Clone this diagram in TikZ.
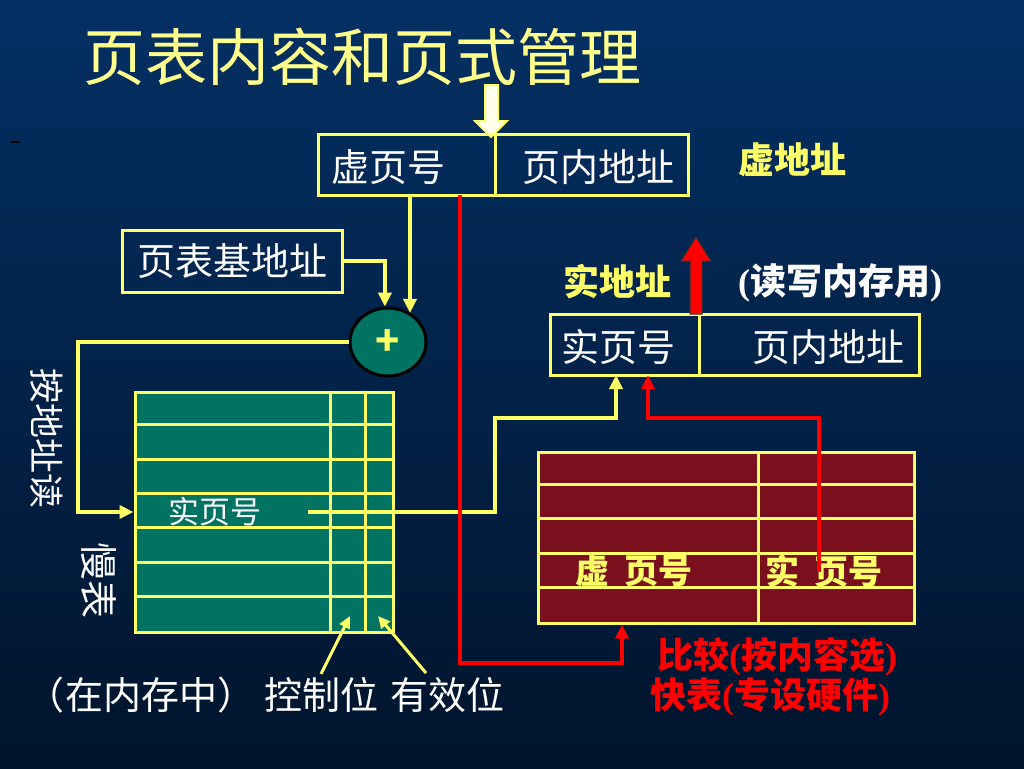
\documentclass[tikz,border=0pt]{standalone}
\usepackage{fontspec}
\setmainfont{Noto Sans CJK SC}
\newfontfamily\latinserif{Liberation Serif}
\usetikzlibrary{arrows.meta,shapes.geometric}
\definecolor{bgtop}{RGB}{4,48,100}
\definecolor{bgbot}{RGB}{0,20,44}
\definecolor{lineyel}{RGB}{255,255,102}
\definecolor{titleyel}{RGB}{255,255,140}
\definecolor{slowfill}{RGB}{0,115,98}
\definecolor{fastfill}{RGB}{122,16,30}
\definecolor{hotred}{RGB}{255,0,0}
\newcommand{\lp}{{\latinserif\bfseries(}}
\newcommand{\rp}{{\latinserif\bfseries)}}
\tikzset{
  box/.style={draw=lineyel, line width=3, minimum height=61, inner sep=0},
  wtext/.style={text=white, font=\fontsize{38}{38}\selectfont},
  ytext/.style={text=lineyel, font=\fontsize{36}{36}\selectfont\bfseries},
  rtext/.style={text=hotred, font=\fontsize{36}{36}\selectfont\bfseries},
  yline/.style={lineyel, line width=4, -{Triangle[length=14pt,width=13pt]}},
  rline/.style={hotred, line width=4, -{Triangle[length=14pt,width=13pt]}},
  gridline/.style={lineyel, line width=3},
}
\begin{document}
\begin{tikzpicture}[x=1pt, y=-1pt]
\useasboundingbox (0,0) rectangle (1024,768);
\fill[top color=bgtop, bottom color=bgbot] (0,0) rectangle (1024,768);
\draw[black, line width=1.5] (11,142) -- (20,142);
\node[text=titleyel, font=\fontsize{62}{62}\selectfont] (title) at (362,57) {页表内容和页式管理};
% virtual address
\draw[lineyel, line width=2, fill=white!92!yellow] (485,85) -- (498,85) -- (498,121) -- (507,121) -- (491,137) -- (475,121) -- (485,121) -- cycle;
\node[box, minimum width=177] (vpn) at (406.5,165) {};
\node[box, minimum width=193] (voff) at (591.5,165) {};
\node[wtext] (vpnlbl) at (388,167) {虚页号};
\node[wtext] (vofflbl) at (598,167) {页内地址};
\node[ytext] (vaddr) at (792,160) {虚地址};
\node[box, wtext, minimum width=220, minimum height=62] (base) at (232,261) {页表基地址};
\node[ellipse, draw=black, line width=3, fill=slowfill, minimum width=76, minimum height=68, text=lineyel, font=\fontsize{40}{40}\selectfont\bfseries] (plus) at (388,342) {+};
% slow table
\node[draw=lineyel, line width=3, fill=slowfill, minimum width=258, minimum height=240] (slow) at (264,512) {};
\foreach \r in {1,...,6}
  \draw[gridline] ([yshift=-\r*34.3pt]slow.north west) -- ([yshift=-\r*34.3pt]slow.north east);
\foreach \c in {197,232}
  \draw[gridline] ([xshift=\c pt]slow.north west) -- ([xshift=\c pt]slow.south west);
\node[text=white, font=\fontsize{31}{31}\selectfont] (slowrpn) at (215,512) {实页号};
\node[wtext, font=\fontsize{35}{35}\selectfont, rotate=-90] (byaddr) at (47,438) {按地址读};
\node[wtext, font=\fontsize{38}{38}\selectfont, rotate=-90] (slowname) at (99,580) {慢表};
% real address
\node[box, minimum width=149] (rpn) at (624.5,344.5) {};
\node[box, minimum width=220] (roff) at (809,344.5) {};
\node[wtext] (rpnlbl) at (618,347) {实页号};
\node[wtext] (rofflbl) at (828,347) {页内地址};
\coordinate (rout) at (696,314);
\draw[black!80, line width=1, fill=hotred] (rout) ++(-6,0) -- ++(0,-53) -- ++(-9,0) -- (696,237) -- ++(15,24) -- ++(-9,0) -- ++(0,53) -- cycle;
\node[ytext] (raddr) at (617,282) {实地址};
\node[text=white, font=\fontsize{36}{36}\selectfont\bfseries] (rwmem) at (840,283) {\lp 读写内存用\rp};
% fast table
\node[draw=lineyel, line width=3, fill=fastfill, minimum width=376, minimum height=171] (fast) at (726,537.5) {};
\foreach \r in {1,...,4}
  \draw[gridline] ([yshift=-\r*34.2pt]fast.north west) -- ([yshift=-\r*34.2pt]fast.north east);
\draw[gridline] ([xshift=222pt]fast.north west) -- ([xshift=222pt]fast.south west);
\node[ytext, font=\fontsize{34}{34}\selectfont\bfseries] (fastvpn) at (634,571) {虚\hspace{0.45em}页号};
\node[ytext, font=\fontsize{34}{34}\selectfont\bfseries] (fastrpn) at (824,571) {实\hspace{0.45em}页号};
\node[rtext] (cmp) at (777,657) {比较\lp 按内容选\rp};
\node[rtext] (tlb) at (770,697) {快表\lp 专设硬件\rp};
% notes
\node[wtext, font=\fontsize{38}{38}\selectfont] (mem) at (141,695) {（在内存中）};
\node[wtext, font=\fontsize{38}{38}\selectfont] (ctrl) at (321,695) {控制位};
\node[wtext, font=\fontsize{38}{38}\selectfont] (valid) at (447,695) {有效位};
\coordinate (ctrlbit) at (350,616);
\coordinate (validbit) at (378,616);
\coordinate (validtail) at (426,673);
% connectors
\coordinate (vtap) at (410,195);
\coordinate (vtap2) at (460,195);
\coordinate (rdcorner) at (78,512);
\coordinate (spout) at (308,512);
\coordinate (ybend) at (495,418);
\coordinate (rin1) at (616,375);
\coordinate (rin2) at (648,375);
\coordinate (rbend) at (648,418);
\coordinate (ftap) at (819,572);
\coordinate (rcorner) at (622,663);
\draw[yline] (vtap) -- (vtap |- plus.52);
\draw[yline] (base.east) -| (plus.95);
\draw[yline] (plus.west) -| (rdcorner) -- (slow.west);
\draw[yline] (spout) -| (ybend) -| (rin1);
\draw[yline, line width=3, -{Triangle[length=12pt,width=11pt]}] (ctrl.north) -- (ctrlbit);
\draw[yline, line width=3, -{Triangle[length=12pt,width=11pt]}] (validtail) -- (validbit);
\draw[rline] (vtap2) |- (rcorner) -- (rcorner |- fast.south);
\draw[rline] (ftap) |- (rbend) -- (rin2);
\end{tikzpicture}
\end{document}
